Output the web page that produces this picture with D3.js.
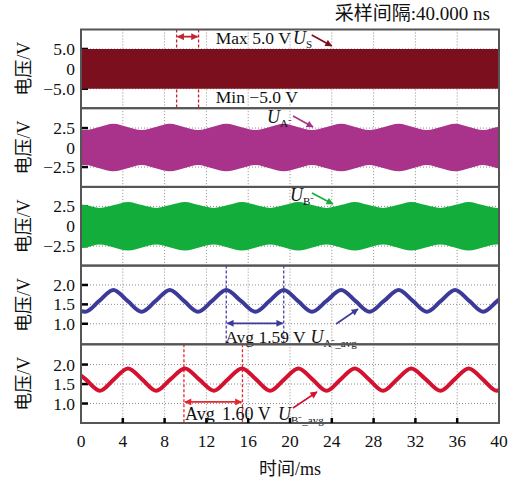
<!DOCTYPE html>
<html>
<head>
<meta charset="utf-8">
<script src="https://cdn.jsdelivr.net/npm/d3@7"></script>
<style>
body { margin: 0; background: #fff; }
text { font-family: "Liberation Serif", "Times New Roman", "Noto Sans CJK SC", serif; fill: #111; }
.grid line { stroke: #8c8c8c; stroke-width: 1; stroke-dasharray: 1,2; }
</style>
</head>
<body>
<svg></svg>
<script>
// time axis
const xTicks = [0, 4, 8, 12, 16, 20, 24, 28, 32, 36, 40];

// U_S : square carrier, fills +/-5 V
const usTime = [0, 40];
const usMax = [5.0, 5.0];
const usMin = [-5.0, -5.0];

// U_A- avg and envelope of U_A- (same sample times)
const uaTime = [0, 0.4, 1.75, 3.1, 4.45, 5.8, 7.15, 8.5, 9.85, 11.2, 12.55, 13.9, 15.3, 16.7, 18.05, 19.4,
  20.75, 22.1, 23.5, 24.9, 26.25, 27.6, 29.0, 30.4, 31.75, 33.1, 34.45, 35.8, 37.15, 38.5, 39.85, 40];
const uaAvg = [1.32, 1.31, 1.59, 1.87, 1.59, 1.31, 1.59, 1.87, 1.59, 1.31, 1.59, 1.87, 1.59, 1.31, 1.59, 1.87,
  1.59, 1.31, 1.59, 1.87, 1.59, 1.31, 1.59, 1.87, 1.59, 1.31, 1.59, 1.87, 1.59, 1.31, 1.59, 1.62];
const uaEnv = [2.26, 2.25, 2.65, 3.05, 2.65, 2.25, 2.65, 3.05, 2.65, 2.25, 2.65, 3.05, 2.65, 2.25, 2.65, 3.05,
  2.65, 2.25, 2.65, 3.05, 2.65, 2.25, 2.65, 3.05, 2.65, 2.25, 2.65, 3.05, 2.65, 2.25, 2.65, 2.68];

// U_B- avg and envelope of U_B-
const ubTime = [0, 0.45, 1.8, 3.15, 4.5, 5.85, 7.2, 8.55, 9.95, 11.3, 12.7, 14.05, 15.4, 16.75, 18.1, 19.45,
  20.8, 22.15, 23.5, 24.85, 26.2, 27.55, 28.9, 30.25, 31.6, 33.0, 34.4, 35.75, 37.1, 38.45, 39.8, 40];
const ubAvg = [1.72, 1.62, 1.33, 1.62, 1.90, 1.62, 1.33, 1.62, 1.90, 1.62, 1.33, 1.62, 1.90, 1.62, 1.33, 1.62,
  1.90, 1.62, 1.33, 1.62, 1.90, 1.62, 1.33, 1.62, 1.90, 1.62, 1.33, 1.62, 1.90, 1.62, 1.33, 1.34];
const ubEnv = [2.75, 2.67, 2.30, 2.67, 3.05, 2.67, 2.30, 2.67, 3.05, 2.67, 2.30, 2.67, 3.05, 2.67, 2.30, 2.67,
  3.05, 2.67, 2.30, 2.67, 3.05, 2.67, 2.30, 2.67, 3.05, 2.67, 2.30, 2.67, 3.05, 2.67, 2.30, 2.31];

// cursors (ms)
const usCursor = [9.15, 11.25];
const uaCursor = [13.9, 19.4];
const ubCursor = [9.85, 15.45];

// y axes
const panelDomains = [[-9.9, 9.9], [-5.05, 5.05], [-4.95, 4.95], [0.47, 2.5], [0.5, 2.52]];
const panelTicks = [[-5, 0, 5], [-2.5, 0, 2.5], [-2.5, 0, 2.5], [1.0, 1.5, 2.0], [1.0, 1.5, 2.0]];
const colors = ['#7b0f1d', '#a9338a', '#12ad3b', '#3c3a99', '#d4112f'];
const cursorColors = ['#c0262f', '#4a3fb0', '#e8262f'];

const width = 515;
const height = 481;
const plotLeft = 81, plotRight = 499, plotTop = 29.5, plotBottom = 423;
const panelH = (plotBottom - plotTop) / 5;

const svg = d3.select('svg')
  .attr('width', width)
  .attr('height', height);

const xScale = d3.scaleLinear().domain([0, 40]).range([plotLeft, plotRight]);
const tickFormat = d => d === 0 ? '0' : d3.format('.1f')(d);

// arrow markers
const defs = svg.append('defs');
const markerColors = [colors[0], colors[1], colors[2], colors[3], colors[4], cursorColors[0], cursorColors[1], cursorColors[2]];
markerColors.forEach((c, i) => {
  defs.append('marker')
    .attr('id', 'arr' + i)
    .attr('viewBox', '0 0 10 10')
    .attr('refX', 9).attr('refY', 5)
    .attr('markerWidth', 8).attr('markerHeight', 7)
    .attr('markerUnits', 'userSpaceOnUse')
    .attr('orient', 'auto-start-reverse')
    .append('path')
      .attr('d', 'M0,0 L10,5 L0,10 z')
      .attr('fill', c);
});

const panels = svg.selectAll('g.panel')
  .data(panelDomains)
  .enter().append('g')
    .attr('class', 'panel')
    .attr('transform', (d, i) => `translate(0,${plotTop + i * panelH})`);

const yScales = panelDomains.map(d => d3.scaleLinear().domain(d).range([panelH, 0]));

panels.each(function(d, i) {
  const g = d3.select(this);
  const y = yScales[i];

  const grid = g.append('g').attr('class', 'grid');
  grid.selectAll('line.v').data(xTicks.slice(1, -1))
    .enter().append('line')
      .attr('x1', xScale).attr('x2', xScale)
      .attr('y1', 0).attr('y2', panelH);
  grid.selectAll('line.h').data(panelTicks[i])
    .enter().append('line')
      .attr('x1', plotLeft).attr('x2', plotRight)
      .attr('y1', y).attr('y2', y);

  // y ticks + labels
  g.selectAll('line.yt').data(panelTicks[i])
    .enter().append('line')
      .attr('x1', plotLeft).attr('x2', plotLeft + 7)
      .attr('y1', y).attr('y2', y)
      .attr('stroke', '#000').attr('stroke-width', 2.5);
  g.selectAll('text.yl').data(panelTicks[i])
    .enter().append('text')
      .attr('x', plotLeft - 6)
      .attr('y', y)
      .attr('dy', '0.35em')
      .attr('text-anchor', 'end')
      .attr('font-size', 17.5)
      .text(tickFormat);

  g.append('text')
    .attr('transform', `translate(24,${panelH / 2}) rotate(-90)`)
    .attr('text-anchor', 'middle')
    .attr('dy', '0.35em')
    .attr('font-size', 18)
    .text('电压/V');
});

const pg = i => d3.select(panels.nodes()[i]);

function cursorLines(i, times, color) {
  pg(i).selectAll('line.cur').data(times)
    .enter().append('line')
      .attr('x1', xScale).attr('x2', xScale)
      .attr('y1', 0).attr('y2', panelH)
      .attr('stroke', color).attr('stroke-width', 1.3)
      .attr('stroke-dasharray', '3,2');
}
function doubleArrow(i, times, v, marker, color) {
  pg(i).append('line')
    .attr('x1', xScale(times[0]) + 1).attr('x2', xScale(times[1]) - 1)
    .attr('y1', yScales[i](v)).attr('y2', yScales[i](v))
    .attr('stroke', color).attr('stroke-width', 1.8)
    .attr('marker-start', `url(#${marker})`)
    .attr('marker-end', `url(#${marker})`);
}
function arrow(i, t0, v0, t1, v1, marker, color) {
  pg(i).append('line')
    .attr('x1', xScale(t0)).attr('y1', yScales[i](v0))
    .attr('x2', xScale(t1)).attr('y2', yScales[i](v1))
    .attr('stroke', color).attr('stroke-width', 1.6)
    .attr('marker-end', `url(#${marker})`);
}
function label(i, t, v, txt, size) {
  return pg(i).append('text')
    .attr('x', xScale(t)).attr('y', yScales[i](v))
    .attr('font-size', size || 17)
    .text(txt);
}
function uLabel(i, t, v, sub) {
  const tx = pg(i).append('text')
    .attr('x', xScale(t)).attr('y', yScales[i](v))
    .attr('font-size', 18);
  tx.append('tspan').attr('font-style', 'italic').text('U');
  tx.append('tspan').attr('font-size', 11).attr('dy', 4).text(sub);
}

// panel 1: U_S
cursorLines(0, usCursor, cursorColors[0]);
const us = usTime.map((t, k) => ({ t, hi: usMax[k], lo: usMin[k] }));
pg(0).append('path')
  .datum(us)
  .attr('fill', colors[0])
  .attr('d', d3.area().x(d => xScale(d.t)).y0(d => yScales[0](d.lo)).y1(d => yScales[0](d.hi)));
doubleArrow(0, usCursor, 8.1, 'arr5', cursorColors[0]);
label(0, 12.9, 6.25, 'Max 5.0 V', 17.5);
label(0, 12.9, -8.6, 'Min −5.0 V', 17.5);
uLabel(0, 20.29, 6.25, 'S');
arrow(0, 22.08, 8.52, 23.99, 5.75, 'arr0', colors[0]);

// panel 2: U_A-
const ua = uaTime.map((t, k) => ({ t, a: uaEnv[k], avg: uaAvg[k] }));
pg(1).append('path')
  .datum(ua)
  .attr('fill', colors[1])
  .attr('d', d3.area().curve(d3.curveMonotoneX)
    .x(d => xScale(d.t)).y0(d => yScales[1](-d.a)).y1(d => yScales[1](d.a)));
uLabel(1, 17.8, 3.1, 'A⁻');
arrow(1, 20.29, 4.05, 22.2, 2.64, 'arr1', colors[1]);

// panel 3: U_B-
const ub = ubTime.map((t, k) => ({ t, a: ubEnv[k], avg: ubAvg[k] }));
pg(2).append('path')
  .datum(ub)
  .attr('fill', colors[2])
  .attr('d', d3.area().curve(d3.curveMonotoneX)
    .x(d => xScale(d.t)).y0(d => yScales[2](-d.a)).y1(d => yScales[2](d.a)));
uLabel(2, 20.0, 3.18, 'B⁻');
arrow(2, 22.1, 4.18, 24.1, 2.8, 'arr2', colors[2]);

// panel 4: U_A-_avg
cursorLines(3, uaCursor, cursorColors[1]);
pg(3).append('path')
  .datum(ua)
  .attr('fill', 'none').attr('stroke', colors[3]).attr('stroke-width', 4)
  .attr('d', d3.line().curve(d3.curveMonotoneX).x(d => xScale(d.t)).y(d => yScales[3](d.avg)));
doubleArrow(3, uaCursor, 1.01, 'arr3', colors[3]);
label(3, 13.8, 0.5, 'Avg 1.59 V', 17.5);
uLabel(3, 21.95, 0.5, 'A⁻_avg');
arrow(3, 24.4, 0.994, 26.5, 1.38, 'arr3', colors[3]);

// panel 5: U_B-_avg
cursorLines(4, ubCursor, cursorColors[2]);
pg(4).append('path')
  .datum(ub)
  .attr('fill', 'none').attr('stroke', colors[4]).attr('stroke-width', 4)
  .attr('d', d3.line().curve(d3.curveMonotoneX).x(d => xScale(d.t)).y(d => yScales[4](d.avg)));
doubleArrow(4, ubCursor, 1.04, 'arr7', cursorColors[2]);
label(4, 9.95, 0.577, 'Avg', 18);
label(4, 13.49, 0.577, '1.60 V', 18);
uLabel(4, 18.85, 0.577, 'B⁻_avg');
arrow(4, 20.29, 0.885, 22.58, 1.296, 'arr4', colors[4]);

// frames
panels.append('rect')
  .attr('x', plotLeft).attr('y', 0)
  .attr('width', plotRight - plotLeft).attr('height', panelH)
  .attr('fill', 'none').attr('stroke', '#555').attr('stroke-width', 2);

// x axis
svg.selectAll('line.xt').data(xTicks.slice(1, -1))
  .enter().append('line')
    .attr('x1', xScale).attr('x2', xScale)
    .attr('y1', plotBottom).attr('y2', plotBottom - 5)
    .attr('stroke', '#000').attr('stroke-width', 2.5);
svg.selectAll('text.xl').data(xTicks)
  .enter().append('text')
    .attr('x', xScale).attr('y', 447)
    .attr('text-anchor', 'middle')
    .attr('font-size', 17.5)
    .text(d => d);
svg.append('text')
  .attr('x', 290).attr('y', 475)
  .attr('text-anchor', 'middle')
  .attr('font-size', 18)
  .text('时间/ms');

svg.append('text')
  .attr('x', 490).attr('y', 20)
  .attr('text-anchor', 'end')
  .attr('font-size', 19)
  .text('采样间隔:40.000 ns');
</script>
</body>
</html>
